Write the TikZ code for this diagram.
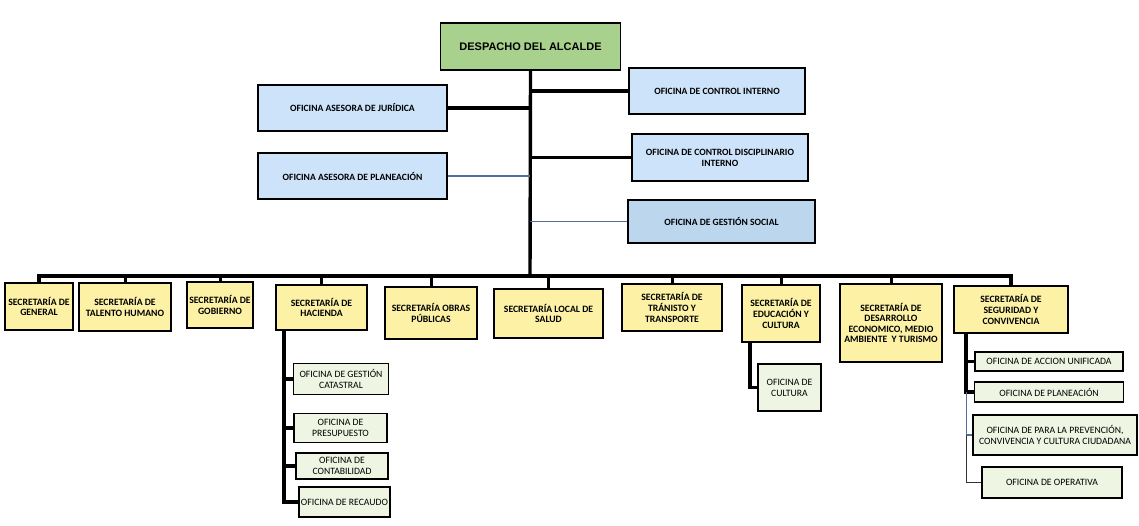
\documentclass[tikz,border=0pt]{standalone}
\usepackage{fontspec}
\setmainfont{Carlito}
\newfontfamily\arialfont{Liberation Sans}
\usetikzlibrary{positioning}
\definecolor{despgreen}{RGB}{168,209,141}
\definecolor{ofiblue}{RGB}{205,227,249}
\definecolor{socialblue}{RGB}{188,214,238}
\definecolor{secyellow}{RGB}{252,241,165}
\definecolor{subgreen}{RGB}{238,246,227}
\definecolor{linkblue}{RGB}{79,110,159}

\begin{document}
\begin{tikzpicture}[x=1pt, y=-1pt,
  box/.style={draw, line width=1.8pt, align=center, inner sep=1pt},
  ofi/.style={box, fill=ofiblue, font=\fontsize{9.6}{11}\selectfont\bfseries},
  sec/.style={box, fill=secyellow, font=\fontsize{9.7}{10.6}\selectfont\bfseries},
  sub/.style={box, fill=subgreen, font=\fontsize{9.7}{11}\selectfont},
  link/.style={line width=3.4pt},
  thinlink/.style={line width=1.1pt, draw=linkblue}]
  \useasboundingbox (0,0) rectangle (1139,525);

  % top
  \node[box, fill=despgreen, minimum width=180pt, minimum height=47pt, font=\arialfont\bfseries\fontsize{11}{13}\selectfont] (despacho) at (530.5,46.5) {DESPACHO DEL ALCALDE};

  \node[ofi, minimum width=189pt, minimum height=46pt] (juridica) at (352.5,108) {OFICINA ASESORA DE JURÍDICA};
  \node[ofi, minimum width=176pt, minimum height=46pt] (control) at (717,91) {OFICINA DE CONTROL INTERNO};
  \node[ofi, minimum width=189pt, minimum height=46pt] (planeacion) at (352.5,176) {OFICINA ASESORA DE PLANEACIÓN};
  \node[ofi, minimum width=176pt, minimum height=47pt] (disciplinario) at (720,157.5) {OFICINA DE CONTROL DISCIPLINARIO\\INTERNO};
  \node[ofi, fill=socialblue, minimum width=187pt, minimum height=43pt] (social) at (721.5,221.5) {OFICINA DE GESTIÓN SOCIAL};

  % secretarias
  \node[sec, minimum width=68pt, minimum height=47pt] (general) at (39,306.5) {SECRETARÍA DE\\GENERAL};
  \node[sec, minimum width=92pt, minimum height=48pt] (talento) at (125,307) {SECRETARÍA DE\\TALENTO HUMANO};
  \node[sec, minimum width=66pt, minimum height=46pt] (gobierno) at (220,305) {SECRETARÍA DE\\GOBIERNO};
  \node[sec, minimum width=91pt, minimum height=45pt] (hacienda) at (321.5,307.5) {SECRETARÍA DE\\HACIENDA};
  \node[sec, minimum width=92pt, minimum height=52pt] (obras) at (431,313) {SECRETARÍA OBRAS\\PÚBLICAS};
  \node[sec, minimum width=109pt, minimum height=49pt] (salud) at (548.5,313.5) {SECRETARÍA LOCAL DE\\SALUD};
  \node[sec, minimum width=100pt, minimum height=47pt] (transito) at (672,307.5) {SECRETARÍA DE\\TRÁNISTO Y\\TRANSPORTE};
  \node[sec, minimum width=78pt, minimum height=57pt] (educacion) at (781,313.5) {SECRETARÍA DE\\EDUCACIÓN Y\\CULTURA};
  \node[sec, minimum width=102pt, minimum height=78pt] (desarrollo) at (891,323) {SECRETARÍA DE\\DESARROLLO\\ECONOMICO, MEDIO\\AMBIENTE~ Y TURISMO};
  \node[sec, minimum width=114pt, minimum height=47pt] (seguridad) at (1011,309.5) {SECRETARÍA DE\\SEGURIDAD Y\\CONVIVENCIA};

  % oficinas
  \node[sub, minimum width=95pt, minimum height=31pt] (catastral) at (341,379) {OFICINA DE GESTIÓN\\CATASTRAL};
  \node[sub, minimum width=93pt, minimum height=29pt] (presupuesto) at (340.5,428) {OFICINA DE\\PRESUPUESTO};
  \node[sub, minimum width=92pt, minimum height=26pt] (contabilidad) at (342,466) {OFICINA DE\\CONTABILIDAD};
  \node[sub, minimum width=91pt, minimum height=30pt] (recaudo) at (344.5,502) {OFICINA DE RECAUDO};
  \node[sub, minimum width=63pt, minimum height=47pt] (cultura) at (789.5,387.5) {OFICINA DE\\CULTURA};
  \node[sub, minimum width=148pt, minimum height=19pt] (accion) at (1049,361.5) {OFICINA DE ACCION UNIFICADA};
  \node[sub, minimum width=149pt, minimum height=20pt] (planseg) at (1049,392) {OFICINA DE PLANEACIÓN};
  \node[sub, minimum width=164pt, minimum height=40pt] (prevencion) at (1055,435) {OFICINA DE PARA LA PREVENCIÓN,\\CONVIVENCIA Y CULTURA CIUDADANA};
  \node[sub, minimum width=140pt, minimum height=31pt] (operativa) at (1052,482.5) {OFICINA DE OPERATIVA};

  % tronco
  \coordinate (bus) at (530,276);
  \draw[link] (despacho.south) -- (bus);
  \draw[link] (juridica.east) -- (juridica.east -| bus);
  \draw[link] (control.west) -- (control.west -| bus);
  \draw[link] (disciplinario.west) -- (disciplinario.west -| bus);
  \draw[thinlink] (planeacion.east) -- (planeacion.east -| bus);
  \draw[thinlink] (social.west) -- (social.west -| bus);

  \draw[link] (general.north) |- (bus) -| (seguridad.north);
  \foreach \n in {talento,gobierno,hacienda,obras,salud,transito,educacion,desarrollo}
    \draw[line width=3pt] (\n.north) -- (\n.north |- bus);

  % ramas
  \coordinate (hac) at ([xshift=9pt]hacienda.south west);
  \draw[link] (hac) |- (recaudo.west);
  \foreach \n in {catastral,presupuesto,contabilidad}
    \draw[link] (hac |- \n.west) -- (\n.west);

  \coordinate (edu) at ([xshift=9pt]educacion.south west);
  \draw[link] (edu) |- (cultura.west);

  \coordinate (seg) at ([xshift=13pt]seguridad.south west);
  \draw[link] (seg) |- (planseg.west);
  \draw[link] (seg |- accion.west) -- (accion.west);
  \draw[thinlink] (seg |- planseg.west) |- (prevencion.west);
  \draw[line width=1.1pt, draw=black!80] (seg |- prevencion.west) |- (operativa.west);
\end{tikzpicture}
\end{document}
